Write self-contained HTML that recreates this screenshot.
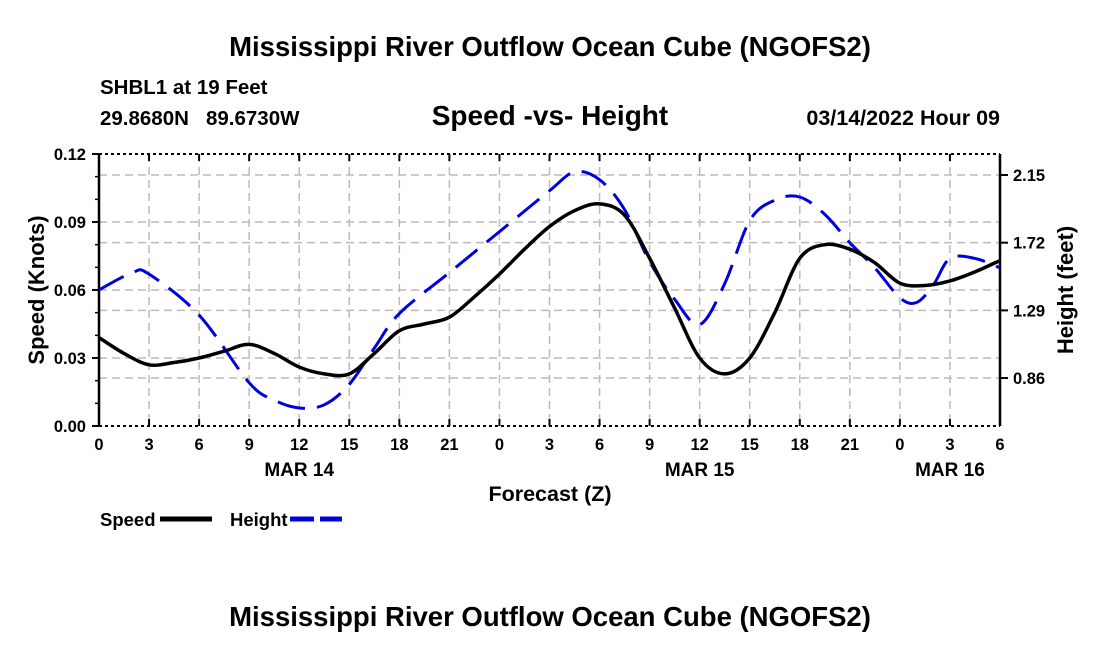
<!DOCTYPE html>
<html><head><meta charset="utf-8"><style>
body{margin:0;background:#fff;}
svg text{font-family:"Liberation Sans",Arial,sans-serif;font-weight:bold;fill:#000;}
</style></head><body>
<svg width="1100" height="650" xmlns="http://www.w3.org/2000/svg">
<text x="550" y="56" font-size="27.5" text-anchor="middle">Mississippi River Outflow Ocean Cube (NGOFS2)</text>
<text x="100" y="94" font-size="20.5">SHBL1 at 19 Feet</text>
<text x="100" y="125" font-size="20.5">29.8680N&#160;&#160;&#160;89.6730W</text>
<text x="550" y="125" font-size="28" text-anchor="middle">Speed -vs- Height</text>
<text x="1000" y="125" font-size="21.5" text-anchor="end">03/14/2022 Hour 09</text>
<g id="grid"></g>
<g id="axes"></g>
<path id="heightLine" fill="none" stroke="#0000dd" stroke-width="3" stroke-dasharray="28,12"/>
<path id="speedLine" fill="none" stroke="#000" stroke-width="3.5"/>
<text x="44" y="290" font-size="22" text-anchor="middle" transform="rotate(-90 44 290)">Speed (Knots)</text>
<text x="1073" y="290" font-size="22" text-anchor="middle" transform="rotate(-90 1073 290)">Height (feet)</text>
<text x="550" y="501" font-size="21.5" text-anchor="middle">Forecast (Z)</text>
<g><text x="100" y="526" font-size="18.5">Speed</text><line x1="160" y1="519" x2="212" y2="519" stroke="#000" stroke-width="5"/></g>
<g><text x="230" y="526" font-size="18.5">Height</text><line x1="290" y1="519" x2="342" y2="519" stroke="#0000dd" stroke-width="5" stroke-dasharray="24,6"/></g>
<text x="550" y="626" font-size="27.5" text-anchor="middle">Mississippi River Outflow Ocean Cube (NGOFS2)</text>
</svg>
<script>
const speedHours=[0,1.5,3,4.5,6,7.5,9,10.5,12,13.5,15,16.5,18,19.5,21,22.5,24,25.5,27,28.5,30,31.5,33,34.5,36,37.5,39,40.5,42,43.5,45,46.5,48,49.5,51,52.5,54];
const speedValues=[0.039,0.032,0.027,0.028,0.030,0.033,0.036,0.032,0.026,0.023,0.023,0.032,0.042,0.045,0.048,0.057,0.067,0.078,0.088,0.095,0.098,0.093,0.074,0.052,0.030,0.023,0.030,0.050,0.074,0.080,0.078,0.072,0.063,0.062,0.064,0.068,0.073];
const heightHours=[0,2,3,6,9,10.5,12,13.5,15,16.5,18,21,24,27,28.5,30,31.5,33,34.5,36,37.5,39,40.5,42,43.5,45,46.5,48,49,50,51,52.5,54];
const heightValues=[1.42,1.53,1.52,1.26,0.83,0.72,0.67,0.69,0.82,1.05,1.27,1.53,1.79,2.05,2.17,2.12,1.93,1.60,1.36,1.20,1.46,1.86,1.99,2.01,1.90,1.72,1.56,1.37,1.34,1.45,1.62,1.62,1.56];
const xTickLabels=["0","3","6","9","12","15","18","21","0","3","6","9","12","15","18","21","0","3","6"];
const leftTicks=[0,0.03,0.06,0.09,0.12];
const leftTickLabels=["0.00","0.03","0.06","0.09","0.12"];
const rightTicks=[0.86,1.29,1.72,2.15];
const dayLabels=[{h:12,t:"MAR 14"},{h:36,t:"MAR 15"},{h:51,t:"MAR 16"}];
const X0=99,X1=1000,Y0=426,Y1=154;
const xs=h=>X0+(X1-X0)*h/54;
const yl=v=>Y0-(Y0-Y1)*v/0.12;
const yr=v=>175+(2.15-v)*157.4;
const NS="http://www.w3.org/2000/svg";
function mk(p,tag,a){const e=document.createElementNS(NS,tag);for(const k in a)e.setAttribute(k,a[k]);p.appendChild(e);return e;}
const grid=document.getElementById('grid'),axes=document.getElementById('axes');
for(let i=1;i<18;i++){const l=mk(grid,'line',{x1:xs(i*3),x2:xs(i*3),y1:Y1,y2:Y0,stroke:'#bbb','stroke-width':1.5,'stroke-dasharray':'8,5'});

}
leftTicks.slice(1,4).forEach(v=>{const l=mk(grid,'line',{x1:X0,x2:X1,y1:yl(v),y2:yl(v),stroke:'#bbb','stroke-width':1.5,'stroke-dasharray':'8,5'});

});
rightTicks.forEach(v=>{const l=mk(grid,'line',{x1:X0,x2:X1,y1:yr(v),y2:yr(v),stroke:'#bbb','stroke-width':1.5,'stroke-dasharray':'8,5'});

});
mk(axes,'line',{x1:X0,x2:X1,y1:Y1,y2:Y1,stroke:'#000','stroke-width':2,'stroke-dasharray':'3,3'});
mk(axes,'line',{x1:X0,x2:X1,y1:Y0,y2:Y0,stroke:'#000','stroke-width':2,'stroke-dasharray':'3,3'});
mk(axes,'line',{x1:X0,x2:X0,y1:Y1,y2:Y0,stroke:'#000','stroke-width':2.5});
mk(axes,'line',{x1:X1,x2:X1,y1:Y1,y2:Y0,stroke:'#000','stroke-width':2.5});
xTickLabels.forEach((t,i)=>{const x=xs(i*3);
mk(axes,'line',{x1:x,x2:x,y1:Y0,y2:Y0-7,stroke:'#000','stroke-width':2});
mk(axes,'line',{x1:x,x2:x,y1:Y1,y2:Y1+7,stroke:'#000','stroke-width':2});
const e=mk(axes,'text',{x:x,y:Y0+24,'font-size':16.5,'text-anchor':'middle'});e.textContent=t;

});
dayLabels.forEach(d=>{const e=mk(axes,'text',{x:xs(d.h),y:Y0+50,'font-size':19,'text-anchor':'middle'});e.textContent=d.t;

});
leftTicks.forEach((v,i)=>{const y=yl(v);mk(axes,'line',{x1:X0-7,x2:X0,y1:y,y2:y,stroke:'#000','stroke-width':2});
const e=mk(axes,'text',{x:X0-13,y:y+6,'font-size':16.5,'text-anchor':'end'});e.textContent=leftTickLabels[i];

});
for(let i=0;i<12;i++){const y=Y0-(Y0-Y1)*i/12;mk(axes,'line',{x1:X0-4,x2:X0,y1:y,y2:y,stroke:'#000','stroke-width':1.5});}
rightTicks.forEach(v=>{const y=yr(v);mk(axes,'line',{x1:X1,x2:X1+8,y1:y,y2:y,stroke:'#000','stroke-width':2});
const e=mk(axes,'text',{x:X1+13,y:y+6,'font-size':16.5});e.textContent=v.toFixed(2);

});
function path(hs,vs,fy){const p=hs.map((h,i)=>[xs(h),fy(vs[i])]);let d='M'+p[0][0]+','+p[0][1];
for(let i=0;i<p.length-1;i++){const a=p[Math.max(0,i-1)],b=p[i],c=p[i+1],e=p[Math.min(p.length-1,i+2)];
const c1=[b[0]+(c[0]-a[0])/6,b[1]+(c[1]-a[1])/6],c2=[c[0]-(e[0]-b[0])/6,c[1]-(e[1]-b[1])/6];
d+=' C'+c1+' '+c2+' '+c;}return d;}
document.getElementById('speedLine').setAttribute('d',path(speedHours,speedValues,yl));
document.getElementById('heightLine').setAttribute('d',path(heightHours,heightValues,yr));
</script>
</body></html>
